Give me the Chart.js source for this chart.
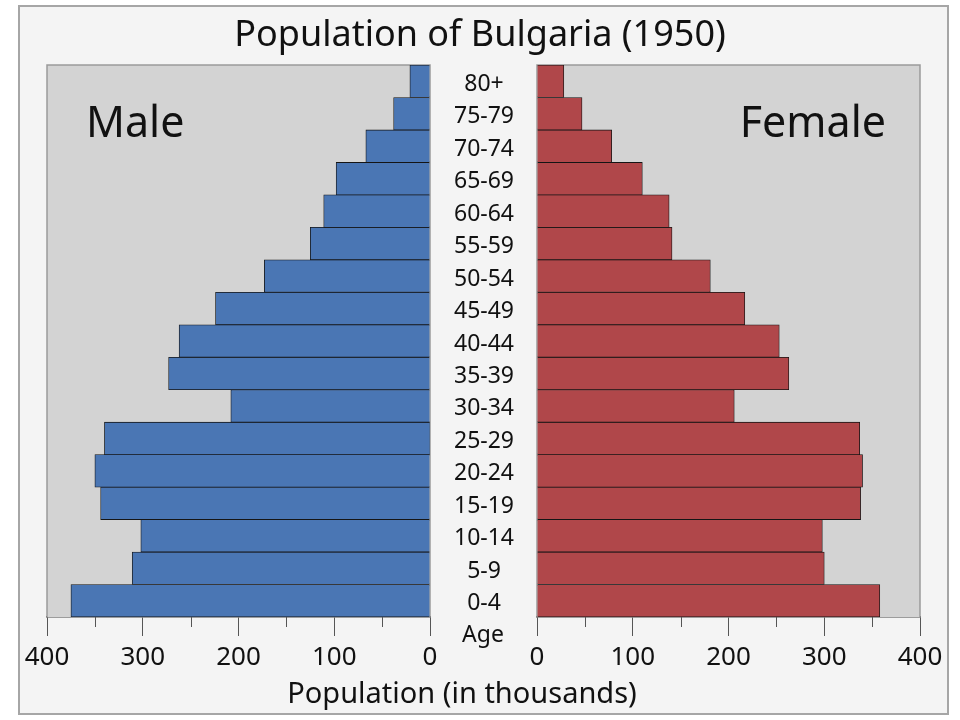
<!DOCTYPE html>
<html>
<head>
<meta charset="utf-8">
<script src="https://cdn.jsdelivr.net/npm/chart.js@4.4.1/dist/chart.umd.min.js"></script>
<style>
  html, body { margin: 0; padding: 0; background: #fff; }
  body { width: 960px; height: 720px; position: relative; overflow: hidden; font-family: 'Noto Sans', sans-serif; color: #111; }
  #frame { position: absolute; left: 18px; top: 5px; width: 927px; height: 706px; border: 2px solid #a6a6a6; background: #f4f4f4; }
  canvas { position: absolute; top: 0; }
  .txt { position: absolute; white-space: nowrap; line-height: 1; }
</style>
</head>
<body>
<div id="frame"></div>
<canvas id="male" style="left:0px" width="440" height="720"></canvas>
<canvas id="female" style="left:430px" width="530" height="720"></canvas>
<div class="txt" style="left:0;width:960px;text-align:center;top:15px;font-size:36px">Population of Bulgaria (1950)</div>
<div class="txt" style="left:86px;top:99px;font-size:43px">Male</div>
<div class="txt" style="right:74px;top:99px;font-size:43px">Female</div>
<div class="txt" style="left:433px;width:100px;text-align:center;top:622px;font-size:23px">Age</div>
<div class="txt" style="left:0;width:924px;text-align:center;top:677px;font-size:29px">Population (in thousands)</div>
<script>
const ageGroups = ['0-4', '5-9', '10-14', '15-19', '20-24', '25-29', '30-34', '35-39', '40-44',
  '45-49', '50-54', '55-59', '60-64', '65-69', '70-74', '75-79', '80+'];
const maleValues = [375, 311, 302, 344, 350, 340, 208, 273, 262, 224, 173, 125, 111, 98, 67, 38, 21];
const femaleValues = [358, 300, 298, 338, 340, 337, 206, 263, 253, 217, 181, 141, 138, 110, 78, 47, 28];
const axisTicks = [0, 100, 200, 300, 400];
const minorTicks = [50, 150, 250, 350];

Chart.defaults.font.family = "'Noto Sans', sans-serif";
Chart.defaults.color = '#111';

const plotBg = {
  id: 'plotBg',
  beforeDatasetsDraw(chart) {
    const a = chart.chartArea, ctx = chart.ctx;
    ctx.save();
    ctx.fillStyle = '#d3d3d3';
    ctx.fillRect(a.left, a.top, a.right - a.left, a.bottom - a.top);
    ctx.strokeStyle = '#9a9a9a';
    ctx.lineWidth = 1.5;
    ctx.beginPath();
    ctx.moveTo(a.left, a.bottom);
    ctx.lineTo(a.left, a.top);
    ctx.lineTo(a.right, a.top);
    ctx.lineTo(a.right, a.bottom);
    ctx.stroke();
    ctx.restore();
  },
  afterDraw(chart) {
    const x = chart.scales.x, ctx = chart.ctx;
    ctx.save();
    ctx.strokeStyle = '#555';
    ctx.lineWidth = 1;
    minorTicks.forEach((v) => {
      const px = Math.round(x.getPixelForValue(v)) + 0.5;
      ctx.beginPath();
      ctx.moveTo(px, x.top);
      ctx.lineTo(px, x.top + 10);
      ctx.stroke();
    });
    ctx.restore();
  },
};

function pyramidSide(canvasId, values, color, isLeft) {
  const canvas = document.getElementById(canvasId);
  return new Chart(canvas, {
    type: 'bar',
    data: {
      labels: ageGroups,
      datasets: [{
        data: values,
        backgroundColor: color,
        borderColor: '#151515',
        borderWidth: 0.8,
        borderSkipped: 'start',
        barPercentage: 1,
        categoryPercentage: 1,
      }],
    },
    options: {
      indexAxis: 'y',
      responsive: false,
      animation: false,
      layout: { padding: isLeft ? { left: 47, right: 10, top: 65, bottom: 0 } : { left: 0, right: 40, top: 65, bottom: 0 } },
      plugins: { legend: { display: false }, tooltip: { enabled: false }, title: { display: false } },
      scales: {
        x: {
          reverse: isLeft,
          min: 0,
          max: 400,
          afterBuildTicks: (scale) => { scale.ticks = axisTicks.map((v) => ({ value: v })); },
          afterFit: (scale) => { scale.height = 103; },
          grid: { drawOnChartArea: false, drawTicks: true, tickLength: 19, tickColor: '#555' },
          border: { display: true, color: '#444', width: 1.5 },
          ticks: { font: { size: 26 }, color: '#111', padding: 6, maxRotation: 0 },
        },
        y: {
          reverse: true,
          display: !isLeft,
          position: 'left',
          afterFit: (scale) => { scale.width = isLeft ? 0 : 107; },
          grid: { display: false, drawTicks: false },
          border: { display: false },
          ticks: { font: { size: 23 }, color: '#111', crossAlign: 'center', padding: 23, labelOffset: 3 },
        },
      },
    },
    plugins: [plotBg],
  });
}

pyramidSide('male', maleValues, '#4a76b4', true);
pyramidSide('female', femaleValues, '#b0474a', false);
</script>
</body>
</html>
